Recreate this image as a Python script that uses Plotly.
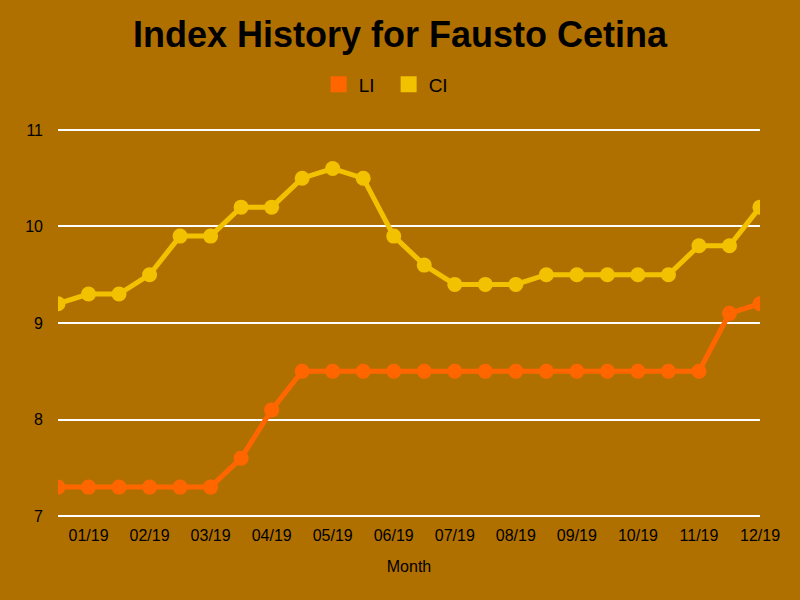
import plotly.graph_objects as go

tick_labels = ["01/19", "02/19", "03/19", "04/19", "05/19", "06/19",
               "07/19", "08/19", "09/19", "10/19", "11/19", "12/19"]
li_values = [7.3, 7.3, 7.3, 7.3, 7.3, 7.3, 7.6, 8.1, 8.5, 8.5, 8.5, 8.5,
             8.5, 8.5, 8.5, 8.5, 8.5, 8.5, 8.5, 8.5, 8.5, 8.5, 9.1, 9.2]
ci_values = [9.2, 9.3, 9.3, 9.5, 9.9, 9.9, 10.2, 10.2, 10.5, 10.6, 10.5, 9.9,
             9.6, 9.4, 9.4, 9.4, 9.5, 9.5, 9.5, 9.5, 9.5, 9.8, 9.8, 10.2]

x = list(range(len(li_values)))
tickvals = [2 * i + 1 for i in range(len(tick_labels))]

BG = "#B07000"
LI_C = "#FF6600"
CI_C = "#F2C200"

fig = go.Figure()
fig.add_trace(go.Scatter(x=x, y=li_values, mode="lines+markers", name="LI",
                         line=dict(color=LI_C, width=5), marker=dict(size=15, color=LI_C),
                         showlegend=False))
fig.add_trace(go.Scatter(x=x, y=ci_values, mode="lines+markers", name="CI",
                         line=dict(color=CI_C, width=5), marker=dict(size=15, color=CI_C),
                         showlegend=False))
for nm, c in [("LI", LI_C), ("CI", CI_C)]:
    fig.add_trace(go.Scatter(x=[None], y=[None], mode="markers", name=nm,
                             marker=dict(symbol="square", size=21, color=c)))

fig.update_layout(
    width=800, height=600,
    paper_bgcolor=BG, plot_bgcolor=BG,
    font=dict(family="Liberation Sans, Arial", color="black", size=16),
    title=dict(text="<b>Index History for Fausto Cetina</b>", x=0.5, xanchor="center",
               y=0.943, yanchor="middle", font=dict(size=36, color="black")),
    legend=dict(orientation="h", x=0.471, xanchor="center", y=1.112, yanchor="middle",
                font=dict(size=19), bgcolor="rgba(0,0,0,0)", entrywidth=25,
                entrywidthmode="pixels"),
    margin=dict(l=58, r=40, t=128, b=82),
    xaxis=dict(range=[0, 23], tickvals=tickvals, ticktext=tick_labels, showgrid=False,
               zeroline=False, showline=False, ticks="", tickfont=dict(size=16),
               ticklabelstandoff=6,
               title=dict(text="Month", font=dict(size=16), standoff=17)),
    yaxis=dict(range=[6.98, 11.02], dtick=1, tick0=7, showgrid=True, gridcolor="white",
               gridwidth=1.5, zeroline=False, showline=False, ticks="",
               tickfont=dict(size=16), ticklabelstandoff=14),
)
fig.write_html("out.html", post_script="document.body.style.margin='0';",
               config={"displayModeBar": False})
